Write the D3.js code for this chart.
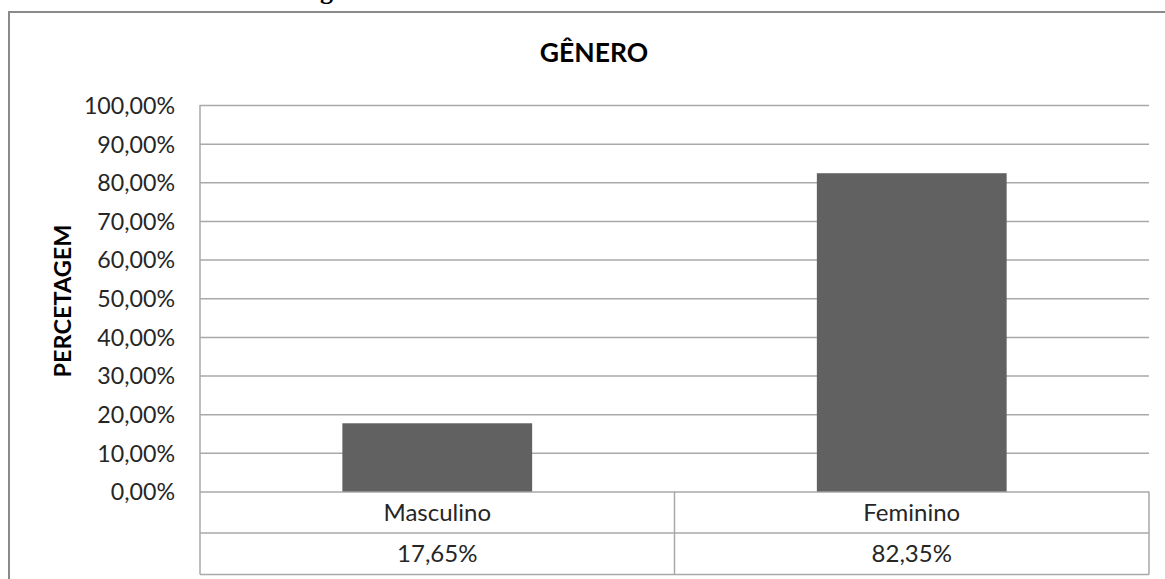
<!DOCTYPE html>
<html>
<head>
<meta charset="utf-8">
<script src="https://cdn.jsdelivr.net/npm/d3@7"></script>
<style>
  html, body { margin: 0; padding: 0; background: #fff; }
  svg { display: block; }
</style>
</head>
<body>
<svg id="chart" width="1165" height="579"></svg>
<script>
// Gender distribution of respondents
const categories = ["Masculino", "Feminino"];
const percentages = [17.65, 82.35];
const valueLabels = ["17,65%", "82,35%"];
const tickValues = [0, 10, 20, 30, 40, 50, 60, 70, 80, 90, 100];
const chartTitle = "GÊNERO";
const yAxisTitle = "PERCETAGEM";

const W = 1165, H = 579;
const plot = { left: 200, right: 1149, top: 105, bottom: 491.5 };
const rowH = 41.5;
const font = "Lato, 'Open Sans', sans-serif";
const gridColor = "#a9a9a9";
const textColor = "#262626";

const svg = d3.select("#chart");

// Caption fragment from the page above the frame
svg.append("text")
  .attr("x", 320).attr("y", -1)
  .attr("font-family", "'Liberation Serif', serif")
  .attr("font-weight", "bold")
  .attr("font-size", 26)
  .attr("fill", "#000")
  .text("g");

// Chart frame (continues past the right and bottom edges)
svg.append("rect")
  .attr("x", 9).attr("y", 12)
  .attr("width", 1200).attr("height", 620)
  .attr("fill", "#fff")
  .attr("stroke", "#8a8a8a")
  .attr("stroke-width", 2);

const y = d3.scaleLinear().domain([0, 100]).range([plot.bottom, plot.top]);
const xCell = d3.scaleBand().domain(categories).range([plot.left, plot.right]).padding(0);
const xBar = d3.scaleBand().domain(categories).range([plot.left, plot.right])
  .paddingInner(0.6).paddingOuter(0.3);

const fmt = v => d3.format(".2f")(v).replace(".", ",") + "%";

// Value axis with gridlines
const yAxis = d3.axisLeft(y)
  .tickValues(tickValues)
  .tickFormat(fmt)
  .tickSize(-(plot.right - plot.left))
  .tickPadding(25);

const gAxis = svg.append("g")
  .attr("transform", `translate(${plot.left},0)`)
  .call(yAxis);
gAxis.select(".domain").remove();
gAxis.selectAll(".tick line")
  .attr("stroke", gridColor)
  .attr("stroke-width", 1.5);
gAxis.selectAll(".tick text")
  .attr("font-family", font)
  .attr("font-size", 23.2)
  .attr("fill", textColor)
  .attr("dy", "0.36em");

// Bars
svg.append("g").selectAll("rect")
  .data(categories)
  .join("rect")
  .attr("x", d => xBar(d))
  .attr("width", xBar.bandwidth())
  .attr("y", (d, i) => y(percentages[i]))
  .attr("height", (d, i) => y(0) - y(percentages[i]))
  .attr("fill", "#616161");

// Data table under the axis
const tableBottom = plot.bottom + 2 * rowH;
const gTable = svg.append("g")
  .attr("stroke", gridColor)
  .attr("stroke-width", 1.5);
// left vertical axis line through plot and table
gTable.append("line")
  .attr("x1", plot.left).attr("x2", plot.left)
  .attr("y1", plot.top).attr("y2", tableBottom);
[1, 2].forEach(r => {
  gTable.append("line")
    .attr("x1", plot.left).attr("x2", plot.right)
    .attr("y1", plot.bottom + r * rowH).attr("y2", plot.bottom + r * rowH);
});
categories.forEach(c => {
  const xr = xCell(c) + xCell.bandwidth();
  gTable.append("line")
    .attr("x1", xr).attr("x2", xr)
    .attr("y1", plot.bottom).attr("y2", tableBottom);
});

const cellText = svg.append("g")
  .attr("font-family", font)
  .attr("font-size", 24)
  .attr("fill", textColor)
  .attr("text-anchor", "middle");
cellText.selectAll("text.cat")
  .data(categories)
  .join("text")
  .attr("class", "cat")
  .attr("x", d => xCell(d) + xCell.bandwidth() / 2)
  .attr("y", plot.bottom + rowH / 2)
  .attr("dy", "0.36em")
  .text(d => d);
cellText.selectAll("text.val")
  .data(valueLabels)
  .join("text")
  .attr("class", "val")
  .attr("x", (d, i) => xCell(categories[i]) + xCell.bandwidth() / 2)
  .attr("y", plot.bottom + rowH * 1.5)
  .attr("dy", "0.36em")
  .text(d => d);

// Titles
svg.append("text")
  .attr("x", 594).attr("y", 62)
  .attr("text-anchor", "middle")
  .attr("font-family", font)
  .attr("font-weight", "bold")
  .attr("font-size", 26.5)
  .attr("fill", "#000")
  .text(chartTitle);

svg.append("text")
  .attr("transform", "translate(71,301) rotate(-90)")
  .attr("text-anchor", "middle")
  .attr("font-family", font)
  .attr("font-weight", "bold")
  .attr("font-size", 23.5)
  .attr("fill", "#000")
  .text(yAxisTitle);
</script>
</body>
</html>
